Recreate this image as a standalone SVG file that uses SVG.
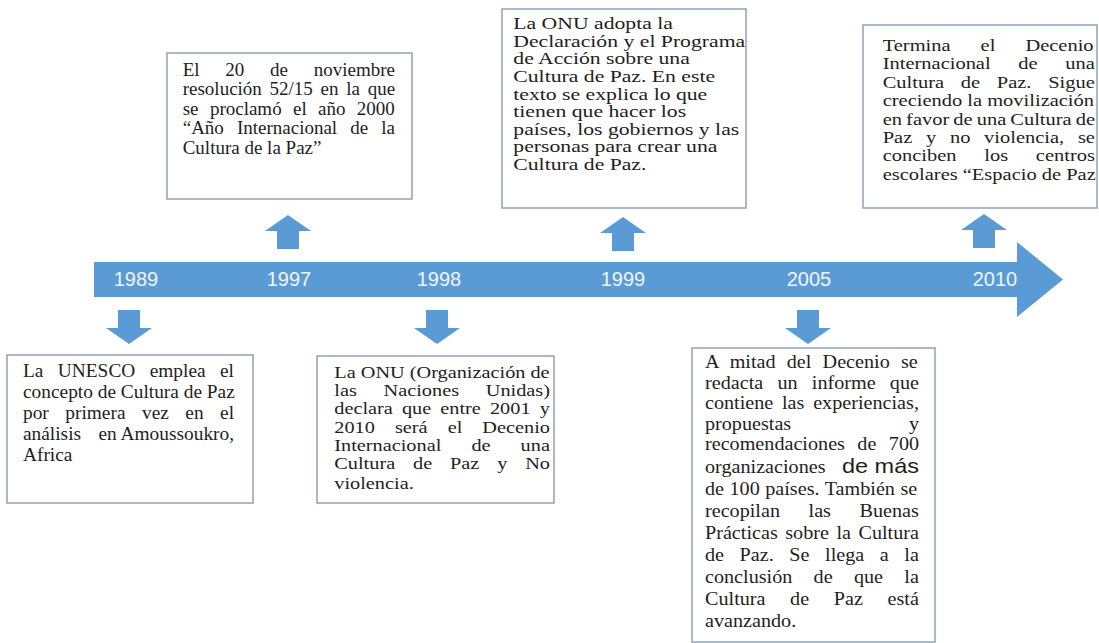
<svg xmlns="http://www.w3.org/2000/svg" width="1099" height="643" viewBox="0 0 1099 643">
<defs>
<path id="upArrow" d="M0,0 L23,16 L11,16 L11,34 L-11,34 L-11,16 L-23,16 Z"/>
<path id="downArrow" d="M-11,0 L11,0 L11,18 L23,18 L0,34 L-23,18 L-11,18 Z"/>
</defs>
<style>
.box{fill:#ffffff;stroke:#8fa2b6;stroke-width:1.5}
.t{font-family:"Liberation Serif","Times New Roman",serif;fill:#1e1e1e}
.yr{font-family:"Liberation Sans",Arial,sans-serif;font-size:20px;fill:#eef5fc;text-anchor:middle}
.arw{fill:#5b9bd5}
</style>
<rect width="1099" height="643" fill="#ffffff"/>

<g id="timeline">
<polygon class="arw" points="94,262 1017,262 1017,242 1063,279.5 1017,317 1017,297 94,297"/>
<text class="yr" x="136" y="286">1989</text>
<text class="yr" x="289" y="286">1997</text>
<text class="yr" x="439" y="286">1998</text>
<text class="yr" x="623" y="286">1999</text>
<text class="yr" x="809" y="286">2005</text>
<text class="yr" x="995" y="286">2010</text>
</g>

<g id="connectors">
<use href="#downArrow" class="arw" x="129" y="310"/>
<use href="#upArrow" class="arw" x="288" y="215"/>
<use href="#downArrow" class="arw" x="437" y="310"/>
<use href="#upArrow" class="arw" x="623" y="217"/>
<use href="#downArrow" class="arw" x="808" y="310"/>
<use href="#upArrow" class="arw" x="984" y="214"/>
</g>

<g id="n1989">
<rect class="box" x="7" y="355" width="246" height="148"/>
<g transform="translate(23,376.5) scale(1.03,1)" class="t" font-size="18.8">
<text y="0" word-spacing="9.3">La UNESCO emplea el</text>
<text y="21.1">concepto de Cultura de Paz</text>
<text y="42.2" word-spacing="11.3">por primera vez en el</text>
<text y="63.3">análisis</text><text x="204.9" y="63.3" text-anchor="end">en Amoussoukro,</text>
<text y="84.4">Africa</text>
</g>
</g>

<g id="n1997">
<rect class="box" x="167" y="53" width="245" height="146"/>
<g transform="translate(182.7,75.7)" class="t" font-size="19">
<text y="0" word-spacing="21">El 20 de noviembre</text>
<text y="19.6" word-spacing="3">resolución 52/15 en la que</text>
<text y="39.2" word-spacing="6.6">se proclamó el año 2000</text>
<text y="58.8" word-spacing="8.3">“Año Internacional de la</text>
<text y="78.4">Cultura de la Paz”</text>
</g>
</g>

<g id="n1998">
<rect class="box" x="317" y="356" width="237" height="147"/>
<g transform="translate(334.3,377.5) scale(1.153,1)" class="t" font-size="17.6">
<text y="0">La ONU (Organización de</text>
<text y="18.4" word-spacing="18.8">las Naciones Unidas)</text>
<text y="36.8" word-spacing="3.5">declara que entre 2001 y</text>
<text y="55.2" word-spacing="13">2010 será el Decenio</text>
<text y="73.6" word-spacing="21.7">Internacional de una</text>
<text y="92" word-spacing="11.1">Cultura de Paz y No</text>
<text y="111.6">violencia.</text>
</g>
</g>

<g id="n1999">
<rect class="box" x="502" y="9" width="244" height="199"/>
<g transform="translate(513.3,29.3) scale(1.24,1)" class="t" font-size="17.5">
<text y="0">La ONU adopta la</text>
<text y="17.6">Declaración y el Programa</text>
<text y="35.2">de Acción sobre una</text>
<text y="52.8">Cultura de Paz. En este</text>
<text y="70.4">texto se explica lo que</text>
<text y="88">tienen que hacer los</text>
<text y="105.6">países, los gobiernos y las</text>
<text y="123.2">personas para crear una</text>
<text y="140.8">Cultura de Paz.</text>
</g>
</g>

<g id="n2005">
<rect class="box" x="692" y="348" width="243" height="294"/>
<g transform="translate(705,368) scale(1.12,1)" class="t" font-size="18">
<text y="0" word-spacing="5.5">A mitad del Decenio se</text>
<text y="20.6" word-spacing="8.2">redacta un informe que</text>
<text y="41.2" word-spacing="3.3">contiene las experiencias,</text>
<text y="61.8" word-spacing="100.6">propuestas y</text>
<text y="82.4" word-spacing="6.6">recomendaciones de 700</text>
<text y="105">organizaciones</text><text x="191.1" y="105" text-anchor="end" font-family="'Liberation Sans',Arial,sans-serif" font-size="21">de más</text>
<text y="127.5" word-spacing="0.4">de 100 países. También se</text>
<text y="149.5" word-spacing="21">recopilan las Buenas</text>
<text y="171.5" word-spacing="2.2">Prácticas sobre la Cultura</text>
<text y="193.5" word-spacing="9.4">de Paz. Se llega a la</text>
<text y="215.5" word-spacing="14.5">conclusión de que la</text>
<text y="237.5" word-spacing="17.5">Cultura de Paz está</text>
<text y="259.5">avanzando.</text>
</g>
</g>

<g id="n2010">
<rect class="box" x="863" y="25" width="234" height="183"/>
<g transform="translate(882.7,51) scale(1.17,1)" class="t" font-size="17.5">
<text y="0" word-spacing="21.3">Termina el Decenio</text>
<text y="18.4" word-spacing="19.3">Internacional de una</text>
<text y="36.8" word-spacing="9.9">Cultura de Paz. Sigue</text>
<text y="55.2">creciendo la movilización</text>
<text y="73.6" word-spacing="-0.9">en favor de una Cultura de</text>
<text y="92" word-spacing="7.35">Paz y no violencia, se</text>
<text y="110.4" word-spacing="19.3">conciben los centros</text>
<text y="128.8">escolares “Espacio de Paz</text>
</g>
</g>
</svg>
